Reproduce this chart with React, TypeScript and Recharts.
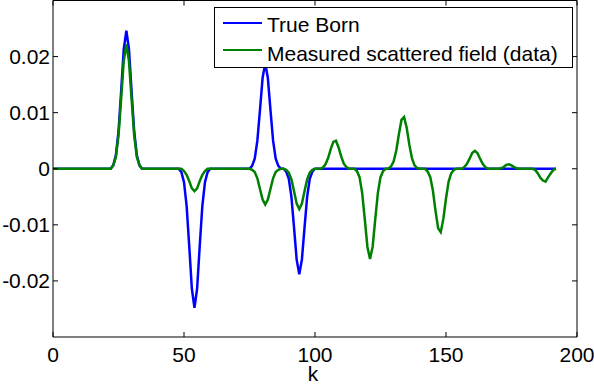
import React from 'react';
import { LineChart, Line, XAxis, YAxis, Legend } from 'recharts';

// Born approximation vs. measured scattered field, sampled over k
const bornSamples: [number, number][] = [
  [0, 0], [22, 0], [23, 0.0006], [24, 0.0024], [25, 0.0066], [26, 0.0137], [27, 0.0213], [28, 0.0246],
  [29, 0.0213], [30, 0.0137], [31, 0.0066], [32, 0.0024], [33, 0.0006], [34, 0],
  [48, 0], [49, -0.0006], [50, -0.0024], [51, -0.0066], [52, -0.0138], [53, -0.0214], [54, -0.0248],
  [55, -0.0214], [56, -0.0138], [57, -0.0066], [58, -0.0024], [59, -0.0006], [60, 0],
  [75, 0], [76, 0.0005], [77, 0.0018], [78, 0.005], [79, 0.0105], [80, 0.0162], [81, 0.0188],
  [82, 0.0162], [83, 0.0105], [84, 0.005], [85, 0.0018], [86, 0.0005], [87, 0],
  [88, 0], [89, -0.0005], [90, -0.0018], [91, -0.005], [92, -0.0105], [93, -0.0162], [94, -0.0188],
  [95, -0.0162], [96, -0.0105], [97, -0.005], [98, -0.0018], [99, -0.0005], [100, 0],
  [192, 0],
];

const measuredSamples: [number, number][] = [
  [0, 0], [22, 0], [23, 0.0006], [24, 0.0021], [25, 0.0059], [26, 0.0124], [27, 0.0192], [28, 0.0222],
  [29, 0.0192], [30, 0.0124], [31, 0.0059], [32, 0.0021], [33, 0.0006], [34, 0],
  [49, 0], [50, -0.0004], [51, -0.0011], [52, -0.0022], [53, -0.0035], [54, -0.004], [55, -0.0035],
  [56, -0.0022], [57, -0.0011], [58, -0.0004], [59, 0],
  [75, 0], [76, -0.0002], [77, -0.0006], [78, -0.0017], [79, -0.0036], [80, -0.0055], [81, -0.0064],
  [82, -0.0055], [83, -0.0036], [84, -0.0017], [85, -0.0006], [86, -0.0002], [87, 0],
  [88, 0], [89, -0.0002], [90, -0.0007], [91, -0.0019], [92, -0.004], [93, -0.0062], [94, -0.0072],
  [95, -0.0062], [96, -0.004], [97, -0.0019], [98, -0.0007], [99, -0.0002], [100, 0],
  [102, 0], [103, 0.0002], [104, 0.0008], [105, 0.0019], [106, 0.0035], [107, 0.0048], [108, 0.005],
  [109, 0.0038], [110, 0.0022], [111, 0.0009], [112, 0.0003], [113, 0],
  [115, 0], [116, -0.0004], [117, -0.0015], [118, -0.0043], [119, -0.009], [120, -0.0139], [121, -0.0161],
  [122, -0.0139], [123, -0.009], [124, -0.0043], [125, -0.0015], [126, -0.0004], [127, 0],
  [128, 0], [129, 0.0004], [130, 0.0013], [131, 0.0032], [132, 0.0061], [133, 0.0087], [134, 0.0092],
  [135, 0.0073], [136, 0.0043], [137, 0.0019], [138, 0.0006], [139, 0.0001], [140, 0],
  [142, 0], [143, -0.0005], [144, -0.0015], [145, -0.0039], [146, -0.0075], [147, -0.0106], [148, -0.0113],
  [149, -0.0089], [150, -0.0053], [151, -0.0023], [152, -0.0008], [153, -0.0002], [154, 0],
  [156, 0], [157, 0.0003], [158, 0.0009], [159, 0.0018], [160, 0.0028], [161, 0.0032], [162, 0.0028],
  [163, 0.0018], [164, 0.0009], [165, 0.0003], [166, 0],
  [170, 0], [171, 0.0001], [172, 0.0003], [173, 0.0007], [174, 0.0008], [175, 0.0006], [176, 0.0003],
  [177, 0.0001], [178, 0],
  [183, 0], [184, -0.0002], [185, -0.0008], [186, -0.0016], [187, -0.0021], [188, -0.0023], [189, -0.0015],
  [190, -0.0008], [191, -0.0002], [192, 0],
];

const xTicks = [0, 50, 100, 150, 200];
const yTicks = [-0.02, -0.01, 0, 0.01, 0.02];
const xDomain: [number, number] = [0, 200];
const yDomain: [number, number] = [-0.03, 0.03];
const seriesNames = ['True Born', 'Measured scattered field (data)'];
const seriesColors = ['#0000ff', '#008000'];

const FONT = '"Liberation Sans", Arial, Helvetica, sans-serif';

const bornData = bornSamples.map(([k, v]) => ({ k, value: v }));
const measuredData = measuredSamples.map(([k, v]) => ({ k, value: v }));

const formatY = (v: number) => (v === 0 ? '0' : String(v));

const renderLegend = (props: any) => {
  const payload = [...(props.payload || [])].sort(
    (a: any, b: any) => seriesNames.indexOf(a.value) - seriesNames.indexOf(b.value)
  );
  return (
    <div
      style={{
        position: 'relative',
        width: 359,
        height: 61,
        boxSizing: 'border-box',
        border: '1px solid #000',
        background: '#fff',
        fontFamily: FONT,
        fontSize: 21,
        color: '#000',
      }}
    >
      {payload.map((entry: any, i: number) => (
        <div key={entry.value} style={{ position: 'absolute', left: 0, top: 0, width: '100%' }}>
          <div
            style={{
              position: 'absolute',
              left: 8,
              top: 15 + i * 27 - 1.25,
              width: 39,
              height: 0,
              borderTop: `2.5px solid ${entry.color}`,
            }}
          />
          <div
            style={{
              position: 'absolute',
              left: 52,
              top: 6 + i * 28.5,
              lineHeight: '21px',
              whiteSpace: 'nowrap',
            }}
          >
            {entry.value}
          </div>
        </div>
      ))}
    </div>
  );
};

export default function App() {
  const tickStyle = { fill: '#000', fontSize: 21, fontFamily: FONT };
  return (
    <div style={{ position: 'absolute', left: 0, top: 0, background: '#fff' }}>
      <LineChart
        width={594}
        height={384}
        margin={{ top: -0.5, right: 16, bottom: 0, left: 0 }}
        style={{ fontFamily: FONT }}
      >
        <XAxis
          dataKey="k"
          type="number"
          domain={xDomain}
          ticks={xTicks}
          height={47}
          tickSize={-5}
          tickMargin={15}
          tick={tickStyle}
          axisLine={{ stroke: '#000' }}
          tickLine={{ stroke: '#000' }}
          label={{ value: 'k', position: 'insideBottom', offset: 3, dx: -2, fill: '#000', fontSize: 21, fontFamily: FONT }}
        />
        <XAxis
          xAxisId="top"
          orientation="top"
          dataKey="k"
          type="number"
          domain={xDomain}
          ticks={xTicks}
          height={1}
          tickSize={-5}
          tick={() => <g />}
          axisLine={{ stroke: '#000' }}
          tickLine={{ stroke: '#000' }}
        />
        <YAxis
          type="number"
          domain={yDomain}
          ticks={yTicks}
          width={53}
          tickSize={-5}
          tickMargin={8}
          tick={tickStyle}
          tickFormatter={formatY}
          axisLine={{ stroke: '#000' }}
          tickLine={{ stroke: '#000' }}
        />
        <YAxis
          yAxisId="right"
          orientation="right"
          type="number"
          domain={yDomain}
          ticks={yTicks}
          width={1}
          tickSize={-5}
          tick={() => <g />}
          axisLine={{ stroke: '#000' }}
          tickLine={{ stroke: '#000' }}
        />
        <Line
          data={bornData}
          dataKey="value"
          name={seriesNames[0]}
          type="linear"
          stroke={seriesColors[0]}
          strokeWidth={2.5}
          dot={false}
          isAnimationActive={false}
        />
        <Line
          data={measuredData}
          xAxisId="top"
          yAxisId="right"
          dataKey="value"
          name={seriesNames[1]}
          type="linear"
          stroke={seriesColors[1]}
          strokeWidth={2.5}
          dot={false}
          isAnimationActive={false}
        />
        <Legend
          layout="vertical"
          align="center"
          verticalAlign="middle"
          content={renderLegend}
          wrapperStyle={{ position: 'absolute', left: 214, top: 7, width: 359, height: 61 }}
        />
      </LineChart>
    </div>
  );
}
